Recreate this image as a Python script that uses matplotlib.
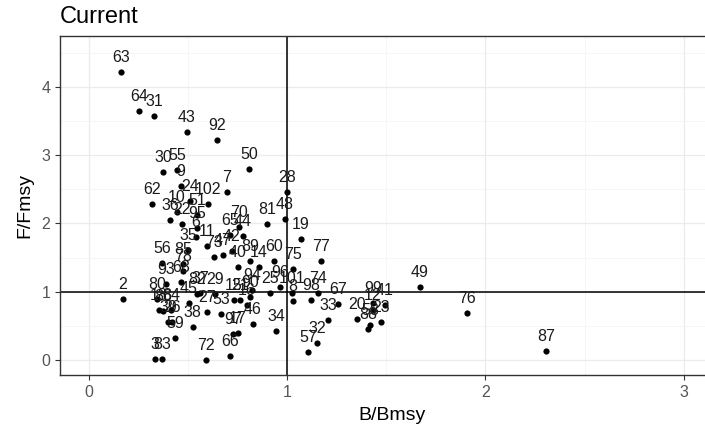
import numpy as np
import matplotlib
matplotlib.use("Agg")
import matplotlib.pyplot as plt

plt.rcParams['font.family'] = ['Liberation Sans', 'DejaVu Sans']

# stock id, B/Bmsy, F/Fmsy
labels = ['63', '64', '31', '43', '92', '30', '55', '50', '9', '7',
          '28', '62', '24', '102', '10', '51', '36', '22', '95', '6',
          '70', '65', '44', '81', '48', '19', '11', '35', '73', '42',
          '89', '40', '14', '60', '75', '77', '56', '85', '78', '93',
          '68', '82', '29', '2', '80', '18', '86', '84', '45', '37',
          '27', '53', '38', '59', '39', '26', '3', '83', '72', '66',
          '97', '17', '46', '34', '15', '94', '90', '21', '16', '25',
          '96', '101', '8', '74', '98', '67', '33', '32', '57', '99',
          '41', '20', '23', '58', '88', '12', '49', '76', '87', '47']
bmsy = [0.161, 0.252, 0.328, 0.494, 0.645, 0.373, 0.444, 0.807, 0.464, 0.696,
        0.998, 0.318, 0.509, 0.600, 0.444, 0.545, 0.408, 0.469, 0.545, 0.540,
        0.756, 0.711, 0.777, 0.898, 0.988, 1.069, 0.595, 0.499, 0.630, 0.721,
        0.812, 0.751, 0.857, 0.933, 1.029, 1.170, 0.368, 0.474, 0.474, 0.388,
        0.464, 0.545, 0.635, 0.171, 0.343, 0.353, 0.373, 0.414, 0.504, 0.560,
        0.595, 0.666, 0.524, 0.434, 0.398, 0.419, 0.333, 0.368, 0.590, 0.711,
        0.726, 0.751, 0.827, 0.943, 0.731, 0.822, 0.812, 0.761, 0.797, 0.913,
        0.963, 1.024, 1.029, 1.155, 1.120, 1.256, 1.205, 1.150, 1.104, 1.432,
        1.493, 1.351, 1.473, 1.417, 1.407, 1.432, 1.669, 1.906, 2.305, 0.676]
fmsy = [4.22, 3.65, 3.58, 3.34, 3.22, 2.75, 2.78, 2.80, 2.55, 2.46,
        2.46, 2.29, 2.33, 2.29, 2.17, 2.12, 2.05, 1.99, 1.93, 1.80,
        1.95, 1.83, 1.82, 1.99, 2.07, 1.77, 1.67, 1.61, 1.51, 1.60,
        1.45, 1.36, 1.36, 1.45, 1.33, 1.45, 1.42, 1.41, 1.30, 1.11,
        1.14, 0.97, 0.97, 0.89, 0.89, 0.73, 0.72, 0.73, 0.84, 0.98,
        0.70, 0.67, 0.48, 0.32, 0.56, 0.56, 0.01, 0.01, 0.00, 0.06,
        0.38, 0.40, 0.53, 0.42, 0.88, 1.03, 0.92, 0.88, 0.81, 0.98,
        1.07, 0.98, 0.86, 0.98, 0.88, 0.82, 0.59, 0.25, 0.12, 0.84,
        0.81, 0.60, 0.56, 0.51, 0.45, 0.73, 1.07, 0.69, 0.13, 1.54]

fig = plt.figure(figsize=(7.05, 4.26), dpi=100)
ax = fig.add_axes([0.0851, 0.1197, 0.941, 0.796])

ax.set_xlim(-0.146, 3.2)
ax.set_ylim(-0.22, 4.747)

ax.set_xticks([0, 1, 2, 3])
ax.set_yticks([0, 1, 2, 3, 4])
ax.set_xticks(np.arange(0.5, 3.2, 1), minor=True)
ax.set_yticks(np.arange(0.5, 4.7, 1), minor=True)
ax.grid(which='major', color='#ebebeb', lw=0.9)
ax.grid(which='minor', color='#f3f3f3', lw=0.5)
ax.set_axisbelow(True)
ax.tick_params(which='minor', length=0)
ax.tick_params(which='major', length=3.5, width=0.8, color='#333333',
               labelcolor='#555555', labelsize=11.5)

for s in ax.spines.values():
    s.set_color('#333333')
    s.set_linewidth(1.0)

ax.axvline(1, color='black', lw=1.1, zorder=2)
ax.axhline(1, color='black', lw=1.1, zorder=2)

ax.scatter(bmsy, fmsy, s=20, color='black', zorder=3, linewidths=0)
for lab, x, y in zip(labels, bmsy, fmsy):
    ax.text(x, y + 0.21, lab, ha='center', va='center', fontsize=11.5,
            color='#1a1a1a', zorder=4)

ax.set_xlabel('B/Bmsy', fontsize=14, labelpad=5)
ax.set_ylabel('F/Fmsy', fontsize=14, labelpad=6)
ax.set_title('Current', loc='left', fontsize=17, pad=9)

fig.savefig('out.png', dpi=100)
